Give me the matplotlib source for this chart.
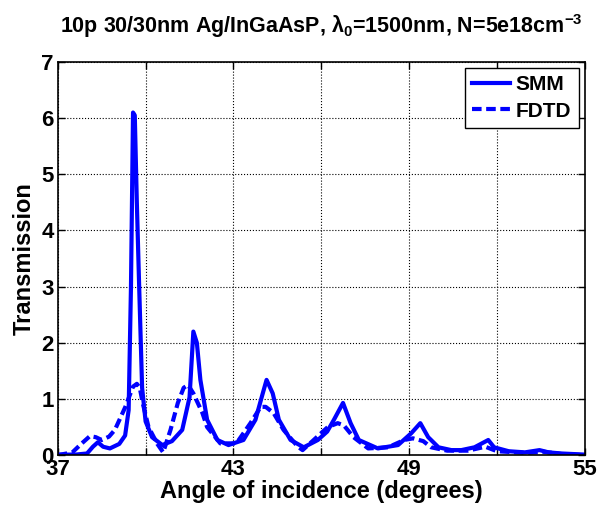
import matplotlib
matplotlib.use("Agg")
import matplotlib.pyplot as plt

plt.rcParams['font.family'] = ['Liberation Sans', 'DejaVu Sans']
plt.rcParams['font.weight'] = 'bold'
plt.rcParams['mathtext.fontset'] = 'custom'
plt.rcParams['mathtext.rm'] = 'Liberation Sans:bold'
plt.rcParams['mathtext.it'] = 'Liberation Sans:bold'
plt.rcParams['mathtext.bf'] = 'Liberation Sans:bold'

# SMM curve
smm_angle = [37.0, 37.6, 38.0, 38.2, 38.37, 38.55, 38.78, 39.1, 39.3, 39.42, 39.5,
             39.57, 39.63, 39.7, 39.78, 39.88, 40.0, 40.22, 40.57, 40.9, 41.25,
             41.5, 41.63, 41.75, 41.87, 42.1, 42.45, 42.83, 43.34, 43.75, 44.0,
             44.13, 44.34, 44.55, 44.95, 45.4, 45.88, 46.2, 46.43, 46.74, 47.0,
             47.28, 47.93, 48.62, 49.07, 49.38, 49.65, 50.0, 50.44, 50.78, 51.23,
             51.7, 51.9, 52.4, 52.95, 53.45, 53.76, 54.2, 55.0]
smm_trans = [0.01, 0.01, 0.03, 0.15, 0.23, 0.15, 0.12, 0.2, 0.35, 0.8, 3.0,
             6.1, 6.05, 4.5, 3.0, 1.2, 0.6, 0.32, 0.18, 0.25, 0.45,
             1.03, 2.2, 2.0, 1.34, 0.63, 0.27, 0.18, 0.27, 0.63, 1.1,
             1.34, 1.1, 0.63, 0.27, 0.14, 0.27, 0.42, 0.63, 0.93, 0.57,
             0.27, 0.12, 0.18, 0.39, 0.57, 0.32, 0.14, 0.09, 0.09, 0.14,
             0.27, 0.14, 0.07, 0.05, 0.09, 0.05, 0.03, 0.01]

# FDTD curve
fdtd_angle = [37.0, 37.5, 37.8, 38.1, 38.3, 38.5, 38.75, 38.95, 39.3, 39.57, 39.7,
              39.8, 39.9, 40.1, 40.4, 40.6, 40.85, 41.1, 41.3, 41.45, 41.63,
              41.94, 42.1, 42.55, 43.1, 43.58, 43.93, 44.1, 44.37, 44.71, 45.2,
              45.36, 45.74, 46.22, 46.56, 46.77, 47.1, 47.6, 48.28, 48.83, 49.13,
              49.48, 49.75, 50.3, 51.0, 51.6, 52.0, 53.0, 53.6, 54.2, 55.0]
fdtd_trans = [0.0, 0.05, 0.2, 0.34, 0.32, 0.27, 0.33, 0.45, 0.85, 1.22, 1.27,
              1.2, 0.93, 0.5, 0.2, 0.05, 0.45, 0.93, 1.2, 1.25, 1.1,
              0.75, 0.5, 0.21, 0.21, 0.57, 0.86, 0.86, 0.75, 0.45, 0.15,
              0.09, 0.27, 0.5, 0.57, 0.53, 0.32, 0.12, 0.14, 0.27, 0.3,
              0.25, 0.14, 0.08, 0.08, 0.15, 0.07, 0.04, 0.06, 0.02, 0.0]

x_ticks = [37, 40, 43, 46, 49, 52, 55]
x_ticklabels = ['37', '', '43', '', '49', '', '55']

fig = plt.figure(figsize=(6.08, 5.12), dpi=100)
ax = fig.add_axes([0.095, 0.111, 0.867, 0.768])

ax.plot(smm_angle, smm_trans, color='blue', lw=3, label='SMM')
ax.plot(fdtd_angle, fdtd_trans, color='blue', lw=3, linestyle=(0, (2.3, 1.1)), label='FDTD')

ax.set_xlim(37, 55)
ax.set_ylim(0, 7)
ax.set_xticks(x_ticks)
ax.set_xticklabels(x_ticklabels)
ax.set_yticks(range(0, 8))
ax.tick_params(direction='in', top=True, right=True, labelsize=16, length=5, width=1, pad=3)
ax.grid(True, color='black', linestyle=':', linewidth=0.8)
for s in ax.spines.values():
    s.set_linewidth(1.2)

ax.set_xlabel('Angle of incidence (degrees)', fontsize=17, fontweight='bold', labelpad=0)
ax.set_ylabel('Transmission', fontsize=17, fontweight='bold', labelpad=4)
ax.set_title('10p 30/30nm Ag/InGaAsP, λ$_0$=1500nm, N=5e18cm$^{-3}$',
             fontsize=15.5, fontweight='bold', pad=21)

leg = ax.legend(loc='upper right', fontsize=15, handlelength=1.8, fancybox=False,
                framealpha=1, edgecolor='black', borderaxespad=0.3, handletextpad=0.3,
                borderpad=0.35, labelspacing=0.35)
leg.get_frame().set_linewidth(1.0)

fig.savefig('out.png', dpi=100)
